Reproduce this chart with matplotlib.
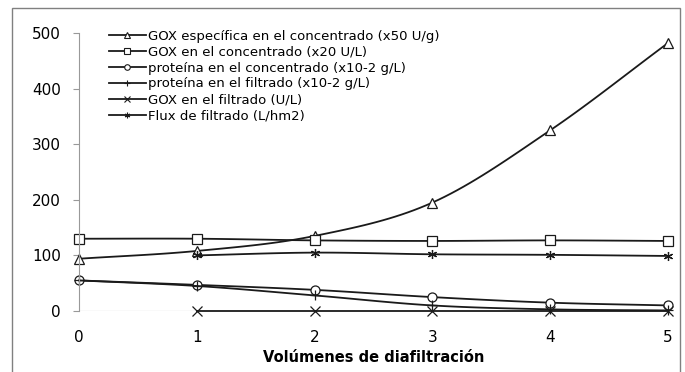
import numpy as np
import matplotlib
matplotlib.use('Agg')
import matplotlib.pyplot as plt
from matplotlib.patches import Rectangle

volumes = [0, 1, 2, 3, 4, 5]
gox_especifica = [94, 108, 135, 195, 325, 482]
gox_concentrado = [130, 130, 127, 126, 127, 126]
proteina_conc = [55, 47, 38, 25, 15, 10]
proteina_filt = [55, 45, 28, 10, 3, 1]
gox_filtrado = [None, 0, 0, 0, 0, 0]
flux = [None, 100, 105, 102, 101, 99]

labels = ['GOX específica en el concentrado (x50 U/g)',
          'GOX en el concentrado (x20 U/L)',
          'proteína en el concentrado (x10-2 g/L)',
          'proteína en el filtrado (x10-2 g/L)',
          'GOX en el filtrado (U/L)',
          'Flux de filtrado (L/hm2)']
markers = ['^', 's', 'o', '+', 'x', (6, 2, 0)]


def smooth(x, y, n=20):
    # catmull-rom style curve through the points, like excel's smoothed line
    x = np.asarray(x, float)
    y = np.asarray(y, float)
    px = np.concatenate([[2 * x[0] - x[1]], x, [2 * x[-1] - x[-2]]])
    py = np.concatenate([[2 * y[0] - y[1]], y, [2 * y[-1] - y[-2]]])
    xs, ys = [], []
    t = np.linspace(0, 1, n)
    for i in range(1, len(px) - 2):
        for p, out in ((px, xs), (py, ys)):
            p0, p1, p2, p3 = p[i - 1], p[i], p[i + 1], p[i + 2]
            out.extend(0.5 * (2 * p1 + (-p0 + p2) * t
                              + (2 * p0 - 5 * p1 + 4 * p2 - p3) * t ** 2
                              + (-p0 + 3 * p1 - 3 * p2 + p3) * t ** 3))
    return xs, ys


fig = plt.figure(figsize=(6.85, 3.72), dpi=100)
fig.patches.append(Rectangle((12 / 685, -0.01), 668 / 685, 1 - 8 / 372 + 0.01,
                             transform=fig.transFigure, fill=False,
                             edgecolor='#808080', linewidth=1.0))
ax = fig.add_axes([79 / 685, 1 - 311 / 372, 589 / 685, 278 / 372])

series = [gox_especifica, gox_concentrado, proteina_conc, proteina_filt, gox_filtrado, flux]
handles = []
for vals, lab, mk in zip(series, labels, markers):
    xs = [v for v, y in zip(volumes, vals) if y is not None]
    ys = [y for y in vals if y is not None]
    sx, sy = smooth(xs, ys)
    ax.plot(sx, sy, color='#1a1a1a', linewidth=1.3, clip_on=False)
    ax.plot(xs, ys, linestyle='none', marker=mk, markersize=6.5, markerfacecolor='white',
            markeredgecolor='#1a1a1a', markeredgewidth=0.9, clip_on=False)
    h, = ax.plot([], [], color='#1a1a1a', linewidth=1.3, marker=mk, markersize=4,
                 markerfacecolor='white', markeredgecolor='#1a1a1a', markeredgewidth=0.8)
    handles.append(h)

ax.set_xlim(0, 5)
ax.set_ylim(0, 500)
ax.set_yticks([0, 100, 200, 300, 400, 500])
ax.set_xticks(volumes)
for s in ['top', 'right', 'bottom']:
    ax.spines[s].set_visible(False)
ax.spines['left'].set_color('#999999')
ax.tick_params(axis='y', length=4, color='#999999', labelsize=11, pad=9)
ax.tick_params(axis='x', length=0, labelsize=11, pad=14)
ax.axhline(0, color='#999999', linewidth=0.8, zorder=0)
ax.set_xlabel('Volúmenes de diafiltración', fontweight='bold', fontsize=10.5, labelpad=3)

ax.legend(handles, labels, loc='upper left', bbox_to_anchor=(0.035, 1.045), frameon=False,
          fontsize=9.5, handlelength=2.8, handletextpad=0.2, labelspacing=0.22,
          borderaxespad=0.3)

fig.savefig('out.png', dpi=100)
